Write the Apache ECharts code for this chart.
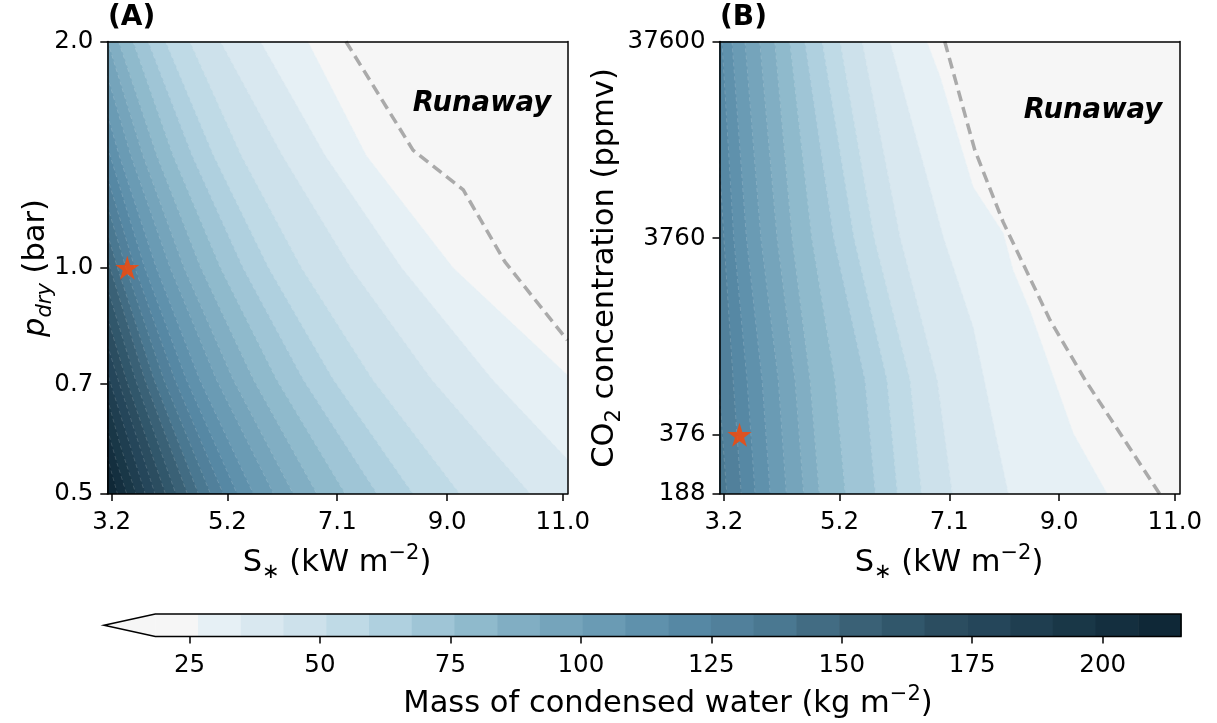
<!DOCTYPE html>
<html><head><meta charset="utf-8">
<script src="https://cdn.jsdelivr.net/npm/echarts@6/dist/echarts.min.js"></script>
<style>html,body{margin:0;padding:0;background:#fff}#c{width:1217px;height:723px}</style>
</head><body><div id="c"></div>
<script>
// ---------------- data ----------------
const S_RANGE = [3.124, 11.078];
const S_TICKS = [3.2, 5.2, 7.1, 9.0, 11.0];
const P_RANGE = [0.5, 2.0];
const P_TICKS = [0.5, 0.7, 1.0, 2.0];
const CO2_RANGE = [188, 37600];
const CO2_TICKS = [188, 376, 3760, 37600];
const LEVELS = [18.45, 26.64, 34.83, 43.02, 51.21, 59.40, 67.59, 75.78, 83.97, 92.16, 100.35, 108.54,
  116.73, 124.92, 133.11, 141.30, 149.49, 157.68, 165.87, 174.06, 182.25, 190.44, 198.63, 206.82, 215.01];
const CBAR_TICKS = [25, 50, 75, 100, 125, 150, 175, 200];
const BAND_COLORS = ['#f6f6f6', '#e6f0f5', '#d9e8f0', '#cde1eb', '#bfdae6', '#afd0df', '#9fc5d6', '#8fbacc',
  '#81aec3', '#75a4bb', '#6a9bb4', '#5f91ac', '#5688a4', '#51809b', '#4a7891', '#426c83',
  '#3a6176', '#31576b', '#2b4d60', '#25465a', '#1f3e50', '#193747', '#142f3f', '#0f2837'];
// contour boundaries (level 1..n) panel A: [S, p_dry]
const CONTOURS_A = [
  [[6.59, 2.0], [7.60, 1.41], [9.10, 1.0], [11.078, 0.72]],
  [[5.77, 2.0], [6.89, 1.41], [8.21, 1.0], [9.78, 0.71], [11.078, 0.556]],
  [[5.08, 2.0], [6.15, 1.41], [7.33, 1.0], [8.73, 0.71], [10.44, 0.5]],
  [[4.55, 2.0], [5.44, 1.41], [6.48, 1.0], [7.71, 0.71], [9.22, 0.5]],
  [[4.13, 2.0], [4.96, 1.41], [5.91, 1.0], [7.03, 0.71], [8.41, 0.5]],
  [[3.83, 2.0], [4.59, 1.41], [5.47, 1.0], [6.51, 0.71], [7.79, 0.5]],
  [[3.57, 2.0], [4.26, 1.41], [5.08, 1.0], [6.05, 0.71], [7.24, 0.5]],
  [[3.32, 2.0], [3.98, 1.41], [4.74, 1.0], [5.65, 0.71], [6.75, 0.5]],
  [[3.13, 2.0], [3.74, 1.41], [4.45, 1.0], [5.30, 0.71], [6.34, 0.5]],
  [[3.124, 1.80], [3.53, 1.41], [4.21, 1.0], [5.01, 0.71], [6.00, 0.5]],
  [[3.124, 1.60], [3.33, 1.41], [3.97, 1.0], [4.72, 0.71], [5.65, 0.5]],
  [[3.124, 1.45], [3.77, 1.0], [4.49, 0.71], [5.37, 0.5]],
  [[3.124, 1.32], [3.60, 1.0], [4.29, 0.71], [5.13, 0.5]],
  [[3.124, 1.21], [3.445, 1.0], [4.10, 0.71], [4.91, 0.5]],
  [[3.124, 1.11], [3.30, 1.0], [3.93, 0.71], [4.70, 0.5]],
  [[3.124, 1.03], [3.17, 1.0], [3.77, 0.71], [4.51, 0.5]],
  [[3.124, 0.94], [3.61, 0.71], [4.31, 0.5]],
  [[3.124, 0.86], [3.45, 0.71], [4.13, 0.5]],
  [[3.124, 0.79], [3.31, 0.71], [3.95, 0.5]],
  [[3.124, 0.73], [3.16, 0.71], [3.78, 0.5]],
  [[3.124, 0.67], [3.35, 0.58], [3.62, 0.5]],
  [[3.124, 0.61], [3.29, 0.55], [3.46, 0.5]],
  [[3.124, 0.56], [3.21, 0.53], [3.30, 0.5]]
];
// contour boundaries panel B: [S, CO2 ppmv]
const CONTOURS_B = [
  [[6.71, 37600], [6.94, 24816], [7.51, 6843], [8.03, 3994], [8.20, 2590], [8.49, 1621], [9.24, 384], [9.83, 188]],
  [[6.07, 37600], [7.00, 3760], [7.51, 1327], [7.90, 376], [8.12, 188]],
  [[5.59, 37600], [6.25, 3760], [6.89, 714], [7.15, 188]],
  [[5.21, 37600], [5.80, 3760], [6.42, 714], [6.62, 188]],
  [[4.90, 37600], [5.45, 3760], [6.02, 714], [6.20, 188]],
  [[4.60, 37600], [5.10, 3760], [5.64, 714], [5.82, 188]],
  [[4.34, 37600], [4.72, 3760], [5.12, 714], [5.30, 188]],
  [[4.08, 37600], [4.38, 3760], [4.69, 714], [4.85, 188]],
  [[3.82, 37600], [4.12, 3760], [4.43, 714], [4.58, 188]],
  [[3.565, 37600], [3.84, 3760], [4.14, 714], [4.28, 188]],
  [[3.34, 37600], [3.59, 3760], [3.86, 714], [4.00, 188]],
  [[3.167, 37600], [3.37, 3760], [3.60, 714], [3.74, 188]],
  [[3.124, 9000], [3.20, 3760], [3.36, 714], [3.50, 188]],
  [[3.124, 600], [3.25, 188]]
];
const RUNAWAY_A = [[7.25, 2.0], [8.41, 1.434], [9.28, 1.269], [10.0, 1.018], [11.078, 0.801]];
const RUNAWAY_B = [[7.02, 37600], [7.54, 10554], [8.03, 4543], [8.84, 1442], [9.45, 714], [10.74, 188]];
const STAR_A = [3.47, 1.0];
const STAR_B = [3.47, 376];

// ---------------- chart ----------------
const FONT = 'DejaVu Sans';
const lg = Math.log10;
const STAR = 'path://M50,0 L61.2,34.5 L97.6,34.5 L68.2,55.9 L79.4,90.5 L50,69.1 L20.6,90.5 L31.8,55.9 L2.4,34.5 L38.8,34.5 Z';

function nearest(ticks, v, f) {
  let best = ticks[0];
  ticks.forEach(t => { if (Math.abs(f(t) - v) < Math.abs(f(best) - v)) best = t; });
  return best;
}
function contourSeries(contours, xi, yi) {
  const data = [[0]];
  contours.forEach((c, i) => data.push([i + 1]));
  return {
    type: 'custom', xAxisIndex: xi, yAxisIndex: yi, clip: true, z: 2, silent: true,
    data: data,
    renderItem(params, api) {
      const k = api.value(0);
      const cs = params.coordSys;
      if (k === 0) {
        return {type: 'rect', shape: {x: cs.x, y: cs.y, width: cs.width, height: cs.height},
          style: {fill: BAND_COLORS[0]}};
      }
      const line = contours[k - 1].map(d => api.coord([d[0], lg(d[1])]));
      const pts = line.concat([[cs.x + cs.width + 2, cs.y + cs.height + 2], [cs.x - 2, cs.y + cs.height + 2], [cs.x - 2, cs.y - 2]]);
      return {type: 'group', children: [
        {type: 'polygon', z2: 2 * k, shape: {points: pts},
          style: {fill: BAND_COLORS[k], stroke: BAND_COLORS[k], lineWidth: 0.6}},
        {type: 'polyline', z2: 2 * k + 1, shape: {points: line},
          style: {fill: 'none', stroke: 'rgba(255,255,255,0.22)', lineWidth: 0.8, lineDash: [4, 3]}}
      ]};
    }
  };
}
const axLine = {show: true, onZero: false, lineStyle: {color: '#000', width: 1.5}};
const tickStyle = {color: '#000', width: 1.5};
const TICK_FS = 24.5;
function mainX(grid) {
  return {type: 'value', gridIndex: grid, position: 'bottom', min: S_RANGE[0], max: S_RANGE[1], z: 10,
    splitLine: {show: false}, axisLine: axLine,
    axisTick: {show: true, length: 7, lineStyle: tickStyle, customValues: S_TICKS},
    axisLabel: {customValues: S_TICKS, formatter: v => v.toFixed(1), color: '#000',
      fontFamily: FONT, fontSize: TICK_FS, margin: 16}};
}
function frameAxis(grid, pos, min, max) {
  return {type: 'value', gridIndex: grid, position: pos, min: min, max: max, z: 10,
    splitLine: {show: false}, axisLine: axLine, axisTick: {show: false}, axisLabel: {show: false}};
}
function mainY(grid, ticks, range, fmt) {
  const cv = ticks.map(lg);
  return {type: 'value', gridIndex: grid, position: 'left', min: lg(range[0]), max: lg(range[1]), z: 10,
    splitLine: {show: false}, axisLine: axLine,
    axisTick: {show: true, length: 7, lineStyle: tickStyle, customValues: cv},
    axisLabel: {customValues: cv, formatter: v => fmt(nearest(ticks, v, lg)), color: '#000',
      fontFamily: FONT, fontSize: TICK_FS, margin: 14}};
}

const sub = {fontFamily: FONT, fontSize: 21, lineHeight: 21, verticalAlign: 'bottom', fill: '#000'};
const sup = {fontFamily: FONT, fontSize: 21, lineHeight: 21, verticalAlign: 'top', fill: '#000'};
const base = {fontFamily: FONT, fontSize: 30.5, lineHeight: 40, fill: '#000'};
const rich = {
  a: base, s: sub, u: sup,
  i: Object.assign({}, base, {fontStyle: 'italic'}),
  si: Object.assign({}, sub, {fontStyle: 'italic'})
};
function label(x, y, text, rot) {
  return {type: 'text', x: x, y: y, rotation: rot || 0, z: 20,
    style: {text: text, rich: rich, textAlign: 'center', textVerticalAlign: 'middle', fontFamily: FONT, fontSize: 30.5}};
}
function plain(x, y, text, size, weight, style, align) {
  return {type: 'text', x: x, y: y, z: 20,
    style: {text: text, fontFamily: FONT, fontSize: size, fontWeight: weight, fontStyle: style,
      textAlign: align, textVerticalAlign: 'middle', fill: '#000'}};
}

const chart = echarts.init(document.getElementById('c'), null, {renderer: 'canvas'});
chart.setOption({
  animation: false,
  backgroundColor: '#ffffff',
  grid: [
    {left: 107.3, top: 41.5, width: 460, height: 452.5, outerBoundsMode: 'none'},
    {left: 719.5, top: 41.5, width: 459.8, height: 452.5, outerBoundsMode: 'none'},
    {left: 155.3, top: 614, width: 1025.7, height: 22.5, outerBoundsMode: 'none'}
  ],
  xAxis: [
    mainX(0), frameAxis(0, 'top', S_RANGE[0], S_RANGE[1]),
    mainX(1), frameAxis(1, 'top', S_RANGE[0], S_RANGE[1]),
    {type: 'value', gridIndex: 2, position: 'bottom', min: LEVELS[0], max: LEVELS[LEVELS.length - 1], z: 10,
      splitLine: {show: false}, axisLine: {show: false},
      axisTick: {show: true, length: 7, lineStyle: tickStyle, customValues: CBAR_TICKS},
      axisLabel: {customValues: CBAR_TICKS, formatter: v => String(Math.round(v)), color: '#000',
        fontFamily: FONT, fontSize: TICK_FS, margin: 17}}
  ],
  yAxis: [
    mainY(0, P_TICKS, P_RANGE, t => t.toFixed(1)), frameAxis(0, 'right', lg(P_RANGE[0]), lg(P_RANGE[1])),
    mainY(1, CO2_TICKS, CO2_RANGE, t => String(t)), frameAxis(1, 'right', lg(CO2_RANGE[0]), lg(CO2_RANGE[1])),
    {type: 'value', gridIndex: 2, min: 0, max: 1, show: false}
  ],
  series: [
    contourSeries(CONTOURS_A, 0, 0),
    contourSeries(CONTOURS_B, 2, 2),
    {type: 'line', xAxisIndex: 0, yAxisIndex: 0, data: RUNAWAY_A.map(d => [d[0], lg(d[1])]), showSymbol: false,
      silent: true, z: 5, lineStyle: {color: '#aaaaaa', width: 3.5, type: [11, 6]}},
    {type: 'line', xAxisIndex: 2, yAxisIndex: 2, data: RUNAWAY_B.map(d => [d[0], lg(d[1])]), showSymbol: false,
      silent: true, z: 5, lineStyle: {color: '#aaaaaa', width: 3.5, type: [11, 6]}},
    {type: 'scatter', xAxisIndex: 0, yAxisIndex: 0, data: [[STAR_A[0], lg(STAR_A[1])]], symbol: STAR,
      symbolSize: 24, z: 6, silent: true, itemStyle: {color: '#ff4500'}},
    {type: 'scatter', xAxisIndex: 2, yAxisIndex: 2, data: [[STAR_B[0], lg(STAR_B[1])]], symbol: STAR,
      symbolSize: 24, z: 6, silent: true, itemStyle: {color: '#ff4500'}},
    {type: 'custom', xAxisIndex: 4, yAxisIndex: 4, silent: true, z: 3,
      data: BAND_COLORS.map((c, i) => [i]).concat([[BAND_COLORS.length]]),
      renderItem(params, api) {
        const i = api.value(0);
        const n = BAND_COLORS.length;
        if (i < n) {
          const p0 = api.coord([LEVELS[i], 1]);
          const p1 = api.coord([LEVELS[i + 1], 0]);
          return {type: 'rect', shape: {x: p0[0], y: p0[1], width: p1[0] - p0[0] + 0.6, height: p1[1] - p0[1]},
            style: {fill: BAND_COLORS[i]}};
        }
        const ext = 0.05 * (LEVELS[n] - LEVELS[0]);
        const a = api.coord([LEVELS[0], 1]), b = api.coord([LEVELS[0], 0]);
        const t = api.coord([LEVELS[0] - ext, 0.5]);
        const c = api.coord([LEVELS[n], 1]), d = api.coord([LEVELS[n], 0]);
        return {type: 'group', children: [
          {type: 'polygon', shape: {points: [a, b, t]}, style: {fill: BAND_COLORS[0]}},
          {type: 'polygon', z2: 5, shape: {points: [t, a, c, d, b]}, style: {fill: 'none', stroke: '#000', lineWidth: 1.5}}
        ]};
      }}
  ],
  graphic: [
    plain(108, 18, '(A)', 28, 'bold', 'normal', 'left'),
    plain(720, 18, '(B)', 28, 'bold', 'normal', 'left'),
    plain(482, 104, 'Runaway', 27.5, 'bold', 'italic', 'center'),
    plain(1093, 111, 'Runaway', 27.5, 'bold', 'italic', 'center'),
    label(337, 563, '{a|S}{s|∗}{a| (kW m}{u|−2}{a|)}'),
    label(949, 563, '{a|S}{s|∗}{a| (kW m}{u|−2}{a|)}'),
    label(36, 268, '{i|p}{si|dry}{a| (bar)}', Math.PI / 2),
    label(605, 268, '{a|CO}{s|2}{a| concentration (ppmv)}', Math.PI / 2),
    label(668, 704, '{a|Mass of condensed water (kg m}{u|−2}{a|)}')
  ]
});
</script>
</body></html>
